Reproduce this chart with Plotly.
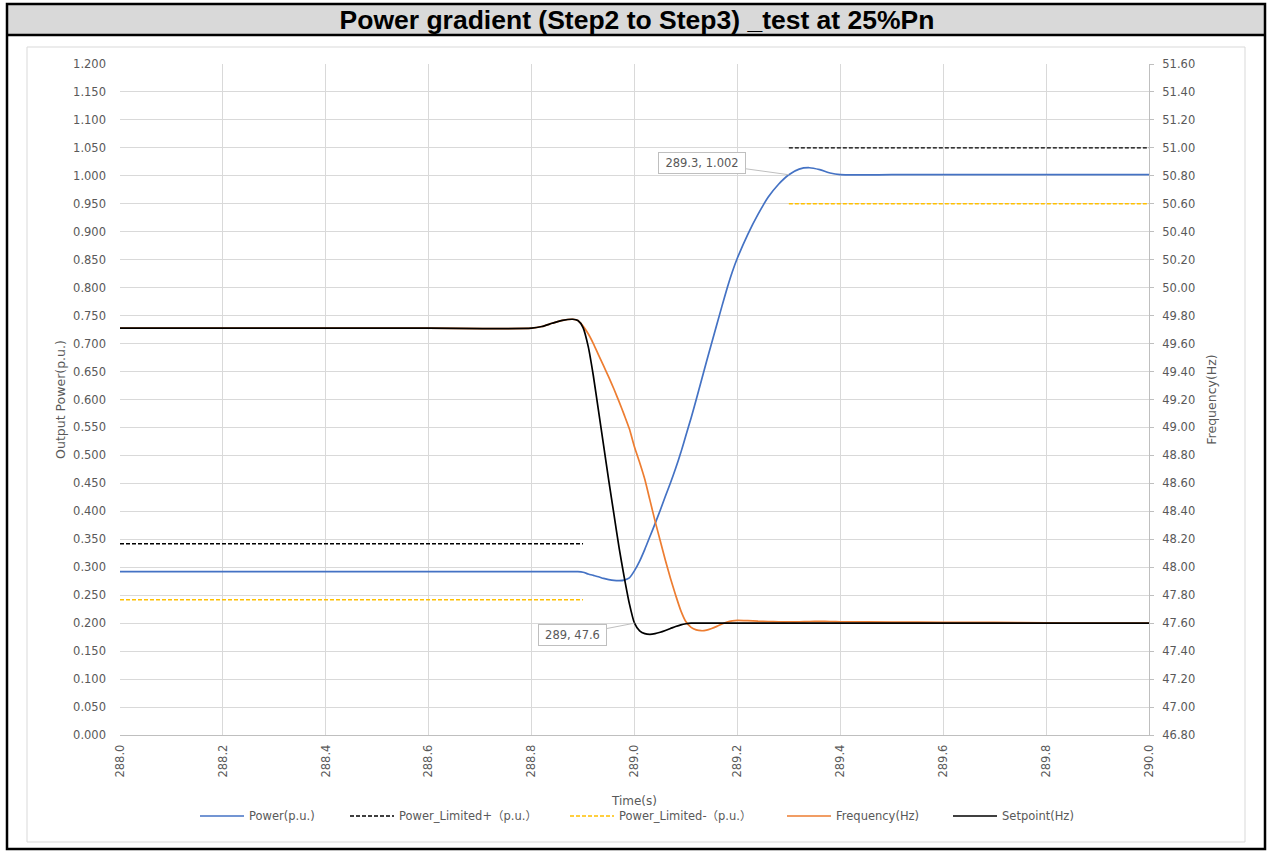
import plotly.graph_objects as go

# ---- data -------------------------------------------------------------
TIME = [
    288.0, 288.2, 288.4, 288.6, 288.8,
    288.82, 288.84, 288.86, 288.88, 288.89,
    288.90, 288.91, 288.92, 288.93, 288.94, 288.95, 288.96, 288.97, 288.98, 288.99,
    289.00, 289.01, 289.02, 289.03, 289.04, 289.05, 289.06, 289.07, 289.08, 289.09,
    289.10, 289.11, 289.12, 289.13, 289.14, 289.15, 289.16, 289.17, 289.18, 289.19,
    289.20,
    289.22, 289.24, 289.26, 289.28, 289.30, 289.32, 289.34, 289.36, 289.38, 289.40,
    289.5, 289.6, 289.7, 289.8, 289.9, 290.0,
]

POWER_PU = [
    0.292, 0.292, 0.292, 0.292, 0.292,
    0.292, 0.292, 0.292, 0.292, 0.292,
    0.291, 0.288, 0.2855, 0.283, 0.280, 0.278, 0.2765, 0.276, 0.277, 0.281,
    0.294, 0.311, 0.332, 0.355, 0.378, 0.402, 0.427, 0.451, 0.477, 0.505,
    0.536, 0.567, 0.600, 0.634, 0.668, 0.701, 0.734, 0.767, 0.799, 0.828,
    0.853,
    0.895, 0.931, 0.962, 0.985, 1.002, 1.012, 1.0145, 1.011, 1.005, 1.002,
    1.002, 1.002, 1.002, 1.002, 1.002, 1.002,
]

FREQUENCY_HZ = [
    49.71, 49.71, 49.71, 49.71, 49.71,
    49.722, 49.745, 49.766, 49.774, 49.765,
    49.725, 49.67, 49.60, 49.52, 49.44, 49.36, 49.275, 49.185, 49.09, 48.99,
    48.86, 48.75, 48.63, 48.48, 48.33, 48.19, 48.05, 47.92, 47.80, 47.69,
    47.61, 47.57, 47.552, 47.546, 47.55, 47.562, 47.577, 47.594, 47.608, 47.616,
    47.62,
    47.618, 47.614, 47.612, 47.61, 47.61, 47.61, 47.612, 47.613, 47.612, 47.61,
    47.608, 47.606, 47.605, 47.602, 47.60, 47.60,
]

SETPOINT_HZ = [
    49.71, 49.71, 49.71, 49.71, 49.71,
    49.722, 49.745, 49.766, 49.774, 49.765,
    49.715, 49.58, 49.37, 49.12, 48.87, 48.62, 48.38, 48.14, 47.93, 47.74,
    47.60, 47.545, 47.525, 47.52, 47.525, 47.535, 47.548, 47.562, 47.576, 47.588,
    47.596, 47.60, 47.60, 47.60, 47.60, 47.60, 47.60, 47.60, 47.60, 47.60,
    47.60,
    47.60, 47.60, 47.60, 47.60, 47.60, 47.60, 47.60, 47.60, 47.60, 47.60,
    47.60, 47.60, 47.60, 47.60, 47.60, 47.60,
]

# power band limits (None breaks the line between the two steps)
LIMIT_TIME = [288.0, 288.9, None, 289.3, 290.0]
LIMIT_UPPER = [0.342, 0.342, None, 1.05, 1.05]
LIMIT_LOWER = [0.242, 0.242, None, 0.95, 0.95]

X_TICKS = [288.0, 288.2, 288.4, 288.6, 288.8, 289.0, 289.2, 289.4, 289.6, 289.8, 290.0]

TITLE = "Power gradient (Step2 to Step3) _test at 25%Pn"

# ---- page geometry (pixels) -------------------------------------------
W, H = 1274, 851
PL, PR, PT, PB = 120, 1149, 64, 735          # plot-area edges


def px(x):
    return (x - PL) / (PR - PL)


def py(y):
    return (PB - y) / (PB - PT)


FONT = "DejaVu Sans, Noto Sans CJK SC, sans-serif"
TXT = "#595959"
GRID = "#d9d9d9"
TICK_SIZE = 11.5

# series styling
STYLE_POWER = dict(color="#4472C4", width=1.7)
STYLE_LIM_UP = dict(color="#000000", width=1.4, dash="4px,2px")
STYLE_LIM_DN = dict(color="#FFC000", width=1.4, dash="4px,2px")
STYLE_FREQ = dict(color="#ED7D31", width=1.7)
STYLE_SETP = dict(color="#000000", width=1.7)

NAME_POWER = "Power(p.u.)"
NAME_LIM_UP = "Power_Limited+（p.u.）"
NAME_LIM_DN = "Power_Limited-（p.u.）"
NAME_FREQ = "Frequency(Hz)"
NAME_SETP = "Setpoint(Hz)"

fig = go.Figure()

fig.add_trace(go.Scatter(
    x=TIME, y=POWER_PU, name=NAME_POWER, mode="lines",
    line=dict(**STYLE_POWER, shape="spline", smoothing=0.6),
))
fig.add_trace(go.Scatter(
    x=LIMIT_TIME, y=LIMIT_UPPER, name=NAME_LIM_UP, mode="lines",
    line=STYLE_LIM_UP,
))
fig.add_trace(go.Scatter(
    x=LIMIT_TIME, y=LIMIT_LOWER, name=NAME_LIM_DN, mode="lines",
    line=STYLE_LIM_DN,
))
fig.add_trace(go.Scatter(
    x=TIME, y=FREQUENCY_HZ, name=NAME_FREQ, mode="lines", yaxis="y2",
    line=dict(**STYLE_FREQ, shape="spline", smoothing=0.6),
))
fig.add_trace(go.Scatter(
    x=TIME, y=SETPOINT_HZ, name=NAME_SETP, mode="lines", yaxis="y2",
    line=dict(**STYLE_SETP, shape="spline", smoothing=0.6),
))

# data callouts
callout = dict(
    showarrow=True, arrowhead=0, arrowwidth=1, arrowcolor="#bfbfbf",
    bordercolor="#bfbfbf", borderwidth=1, borderpad=3, bgcolor="#ffffff",
    font=dict(family=FONT, size=TICK_SIZE, color=TXT),
    height=14,
)
fig.add_annotation(x=289.3, y=1.002, xref="x", yref="y",
                   text="289.3, 1.002", ax=-87, ay=-12, width=80, **callout)
fig.add_annotation(x=289.0, y=47.6, xref="x", yref="y2",
                   text="289, 47.6", ax=-62, ay=12, width=61, **callout)

# frame: outer border, title band, inner chart border
shapes = [
    dict(type="rect", xref="paper", yref="paper",
         x0=px(7), x1=px(1265), y0=py(4), y1=py(35),
         fillcolor="#d9d9d9", line=dict(width=0), layer="below"),
    dict(type="rect", xref="paper", yref="paper",
         x0=px(27), x1=px(1245), y0=py(47), y1=py(842),
         line=dict(color=GRID, width=1), layer="below"),
    dict(type="line", xref="paper", yref="paper",
         x0=px(7), x1=px(1265), y0=py(35), y1=py(35),
         line=dict(color="#000000", width=2.5)),
    dict(type="rect", xref="paper", yref="paper",
         x0=px(7), x1=px(1265), y0=py(4), y1=py(849),
         line=dict(color="#000000", width=2.5)),
]

# legend row along the bottom: sample line + label for each series
LEGEND_Y = 816
LEGEND_ROW = [
    (NAME_POWER, STYLE_POWER, 200),
    (NAME_LIM_UP, STYLE_LIM_UP, 350),
    (NAME_LIM_DN, STYLE_LIM_DN, 570),
    (NAME_FREQ, STYLE_FREQ, 787),
    (NAME_SETP, STYLE_SETP, 953),
]
for name, style, x0 in LEGEND_ROW:
    shapes.append(dict(type="line", xref="paper", yref="paper",
                       x0=px(x0), x1=px(x0 + 44), y0=py(LEGEND_Y), y1=py(LEGEND_Y),
                       line=style))
    fig.add_annotation(x=px(x0 + 47), y=py(LEGEND_Y), xref="paper", yref="paper",
                       text=name, showarrow=False, xanchor="left", yanchor="middle",
                       font=dict(family=FONT, size=TICK_SIZE, color=TXT))

fig.update_layout(
    width=W, height=H,
    margin=dict(l=PL, r=W - PR, t=PT, b=H - PB, autoexpand=False),
    paper_bgcolor="#ffffff", plot_bgcolor="#ffffff",
    font=dict(family=FONT, size=TICK_SIZE, color=TXT),
    title=dict(text=TITLE, x=637 / W, xanchor="center", xref="container",
               y=1 - 19.5 / H, yanchor="middle", yref="container",
               font=dict(family="Liberation Sans, Arial, sans-serif", size=26.5,
                         color="#000000", weight="bold")),
    showlegend=False,
    shapes=shapes,
    xaxis=dict(
        range=[288.0, 290.0], tickvals=X_TICKS, tickformat=".1f",
        tickangle=-90, showgrid=True, gridcolor=GRID, gridwidth=1,
        zeroline=False, showline=True, linecolor="#bfbfbf", linewidth=1,
        ticks="", ticklabelstandoff=4,
        tickfont=dict(family=FONT, size=TICK_SIZE, color=TXT),
        title=dict(text="Time(s)", standoff=20,
                   font=dict(family=FONT, size=12, color=TXT)),
    ),
    yaxis=dict(
        range=[0, 1.2], dtick=0.05, tick0=0, tickformat=".3f",
        showgrid=True, gridcolor=GRID, gridwidth=1, zeroline=False,
        showline=False, ticks="", ticklabelstandoff=13,
        tickfont=dict(family=FONT, size=TICK_SIZE, color=TXT),
        title=dict(text="Output Power(p.u.)", standoff=4,
                   font=dict(family=FONT, size=12.5, color=TXT)),
    ),
    yaxis2=dict(
        range=[46.8, 51.6], dtick=0.2, tick0=46.8, tickformat=".2f",
        overlaying="y", side="right", showgrid=False, zeroline=False,
        showline=True, linecolor="#bfbfbf", linewidth=1,
        ticks="outside", ticklen=4, tickcolor="#bfbfbf", ticklabelstandoff=6,
        tickfont=dict(family=FONT, size=TICK_SIZE, color=TXT),
        title=dict(text="Frequency(Hz)", standoff=13,
                   font=dict(family=FONT, size=12.5, color=TXT)),
    ),
)

fig.write_html("out.html", config={"displayModeBar": False})
